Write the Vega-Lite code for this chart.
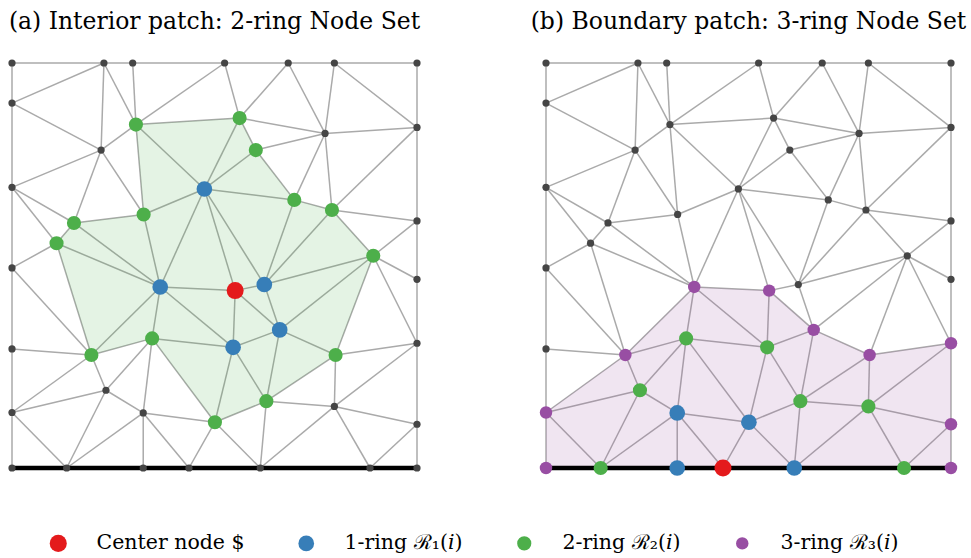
{
  "$schema": "https://vega.github.io/schema/vega-lite/v6.json",
  "padding": {"left": 8, "top": 9, "right": 5, "bottom": 5},
  "background": "white",
  "datasets": {
    "nodes": [
      {"id": "T1", "x": 0, "y": 1, "ra": "o", "rb": "o"},
      {"id": "T2", "x": 0.227, "y": 1, "ra": "o", "rb": "o"},
      {"id": "T3", "x": 0.298, "y": 1, "ra": "o", "rb": "o"},
      {"id": "T4", "x": 0.525, "y": 1, "ra": "o", "rb": "o"},
      {"id": "T5", "x": 0.682, "y": 1, "ra": "o", "rb": "o"},
      {"id": "T6", "x": 0.796, "y": 1, "ra": "o", "rb": "o"},
      {"id": "T7", "x": 1, "y": 1, "ra": "o", "rb": "o"},
      {"id": "L1", "x": 0, "y": 0.901, "ra": "o", "rb": "o"},
      {"id": "L2", "x": 0, "y": 0.693, "ra": "o", "rb": "o"},
      {"id": "L3", "x": 0, "y": 0.494, "ra": "o", "rb": "o"},
      {"id": "L4", "x": 0, "y": 0.294, "ra": "o", "rb": "o"},
      {"id": "L5", "x": 0, "y": 0.137, "ra": "o", "rb": "3"},
      {"id": "R1", "x": 1, "y": 0.841, "ra": "o", "rb": "o"},
      {"id": "R2", "x": 1, "y": 0.61, "ra": "o", "rb": "o"},
      {"id": "R3", "x": 1, "y": 0.466, "ra": "o", "rb": "o"},
      {"id": "R4", "x": 1, "y": 0.308, "ra": "o", "rb": "3"},
      {"id": "R5", "x": 1, "y": 0.108, "ra": "o", "rb": "3"},
      {"id": "B1", "x": 0, "y": 0, "ra": "o", "rb": "3"},
      {"id": "B2", "x": 0.135, "y": 0, "ra": "o", "rb": "2"},
      {"id": "B3", "x": 0.324, "y": 0, "ra": "o", "rb": "1"},
      {"id": "B4", "x": 0.437, "y": 0, "ra": "o", "rb": "c"},
      {"id": "B5", "x": 0.613, "y": 0, "ra": "o", "rb": "1"},
      {"id": "B6", "x": 0.884, "y": 0, "ra": "o", "rb": "2"},
      {"id": "B7", "x": 1, "y": 0, "ra": "o", "rb": "3"},
      {"id": "A", "x": 0.306, "y": 0.848, "ra": "2", "rb": "o"},
      {"id": "Bd", "x": 0.22, "y": 0.785, "ra": "o", "rb": "o"},
      {"id": "C", "x": 0.475, "y": 0.689, "ra": "1", "rb": "o"},
      {"id": "D", "x": 0.325, "y": 0.626, "ra": "2", "rb": "o"},
      {"id": "E", "x": 0.153, "y": 0.605, "ra": "2", "rb": "o"},
      {"id": "F", "x": 0.11, "y": 0.555, "ra": "2", "rb": "o"},
      {"id": "G", "x": 0.562, "y": 0.864, "ra": "2", "rb": "o"},
      {"id": "H", "x": 0.773, "y": 0.826, "ra": "o", "rb": "o"},
      {"id": "I", "x": 0.602, "y": 0.785, "ra": "2", "rb": "o"},
      {"id": "J", "x": 0.697, "y": 0.662, "ra": "2", "rb": "o"},
      {"id": "K", "x": 0.79, "y": 0.637, "ra": "2", "rb": "o"},
      {"id": "Lg", "x": 0.892, "y": 0.524, "ra": "2", "rb": "o"},
      {"id": "M", "x": 0.366, "y": 0.447, "ra": "1", "rb": "3"},
      {"id": "N", "x": 0.346, "y": 0.32, "ra": "2", "rb": "2"},
      {"id": "O", "x": 0.196, "y": 0.279, "ra": "2", "rb": "3"},
      {"id": "P", "x": 0.232, "y": 0.192, "ra": "o", "rb": "2"},
      {"id": "Q", "x": 0.324, "y": 0.136, "ra": "o", "rb": "1"},
      {"id": "R", "x": 0.501, "y": 0.113, "ra": "2", "rb": "1"},
      {"id": "S", "x": 0.551, "y": 0.438, "ra": "c", "rb": "3"},
      {"id": "Tb", "x": 0.623, "y": 0.453, "ra": "1", "rb": "o"},
      {"id": "U", "x": 0.661, "y": 0.341, "ra": "1", "rb": "3"},
      {"id": "V", "x": 0.546, "y": 0.298, "ra": "1", "rb": "2"},
      {"id": "W", "x": 0.799, "y": 0.279, "ra": "2", "rb": "3"},
      {"id": "X", "x": 0.628, "y": 0.165, "ra": "2", "rb": "2"},
      {"id": "Y", "x": 0.796, "y": 0.152, "ra": "o", "rb": "2"}
    ],
    "edges": [
      {"s": "T1", "t": "T2"}, {"s": "T2", "t": "T3"}, {"s": "T3", "t": "T4"}, {"s": "T4", "t": "T5"},
      {"s": "T5", "t": "T6"}, {"s": "T6", "t": "T7"}, {"s": "T7", "t": "R1"}, {"s": "R1", "t": "R2"},
      {"s": "R2", "t": "R3"}, {"s": "R3", "t": "R4"}, {"s": "R4", "t": "R5"}, {"s": "R5", "t": "B7"},
      {"s": "B1", "t": "B2"}, {"s": "B2", "t": "B3"}, {"s": "B3", "t": "B4"}, {"s": "B4", "t": "B5"},
      {"s": "B5", "t": "B6"}, {"s": "B6", "t": "B7"}, {"s": "T1", "t": "L1"}, {"s": "L1", "t": "L2"},
      {"s": "L2", "t": "L3"}, {"s": "L3", "t": "L4"}, {"s": "L4", "t": "L5"}, {"s": "L5", "t": "B1"},
      {"s": "L1", "t": "T2"}, {"s": "L1", "t": "Bd"}, {"s": "T2", "t": "Bd"}, {"s": "T2", "t": "A"},
      {"s": "T3", "t": "A"}, {"s": "A", "t": "Bd"}, {"s": "A", "t": "T4"}, {"s": "A", "t": "G"},
      {"s": "A", "t": "C"}, {"s": "A", "t": "D"}, {"s": "Bd", "t": "L2"}, {"s": "Bd", "t": "E"},
      {"s": "Bd", "t": "D"}, {"s": "L2", "t": "E"}, {"s": "L2", "t": "F"}, {"s": "E", "t": "F"},
      {"s": "E", "t": "D"}, {"s": "E", "t": "M"}, {"s": "F", "t": "M"}, {"s": "F", "t": "L3"},
      {"s": "F", "t": "O"}, {"s": "D", "t": "M"}, {"s": "C", "t": "G"}, {"s": "C", "t": "I"},
      {"s": "C", "t": "J"}, {"s": "C", "t": "D"}, {"s": "C", "t": "M"}, {"s": "C", "t": "S"},
      {"s": "C", "t": "Tb"}, {"s": "G", "t": "I"}, {"s": "G", "t": "T4"}, {"s": "G", "t": "T5"},
      {"s": "G", "t": "H"}, {"s": "T5", "t": "H"}, {"s": "T6", "t": "H"}, {"s": "T6", "t": "R1"},
      {"s": "H", "t": "R1"}, {"s": "I", "t": "H"}, {"s": "I", "t": "J"}, {"s": "H", "t": "J"},
      {"s": "H", "t": "K"}, {"s": "R1", "t": "K"}, {"s": "J", "t": "K"}, {"s": "K", "t": "R2"},
      {"s": "K", "t": "Lg"}, {"s": "R2", "t": "Lg"}, {"s": "J", "t": "Tb"}, {"s": "K", "t": "Tb"},
      {"s": "L3", "t": "O"}, {"s": "L4", "t": "O"}, {"s": "L5", "t": "O"}, {"s": "L5", "t": "P"},
      {"s": "L5", "t": "B2"}, {"s": "O", "t": "P"}, {"s": "O", "t": "N"}, {"s": "O", "t": "M"},
      {"s": "N", "t": "M"}, {"s": "N", "t": "P"}, {"s": "N", "t": "Q"}, {"s": "N", "t": "R"},
      {"s": "N", "t": "V"}, {"s": "P", "t": "B2"}, {"s": "P", "t": "Q"}, {"s": "Q", "t": "B2"},
      {"s": "Q", "t": "B3"}, {"s": "Q", "t": "B4"}, {"s": "Q", "t": "R"}, {"s": "R", "t": "B4"},
      {"s": "R", "t": "V"}, {"s": "R", "t": "X"}, {"s": "R", "t": "B5"}, {"s": "M", "t": "V"},
      {"s": "M", "t": "S"}, {"s": "S", "t": "V"}, {"s": "S", "t": "Tb"}, {"s": "S", "t": "U"},
      {"s": "Tb", "t": "U"}, {"s": "V", "t": "U"}, {"s": "V", "t": "X"}, {"s": "U", "t": "X"},
      {"s": "U", "t": "W"}, {"s": "U", "t": "Lg"}, {"s": "Tb", "t": "Lg"}, {"s": "W", "t": "Lg"},
      {"s": "W", "t": "X"}, {"s": "W", "t": "Y"}, {"s": "W", "t": "R4"}, {"s": "Y", "t": "R4"},
      {"s": "X", "t": "Y"}, {"s": "X", "t": "B5"}, {"s": "Y", "t": "R5"}, {"s": "Y", "t": "B5"},
      {"s": "Y", "t": "B6"}, {"s": "R5", "t": "B6"}, {"s": "Lg", "t": "R3"}, {"s": "Lg", "t": "R4"}
    ],
    "patch_a": [
      {"k": 1, "id": "A"}, {"k": 2, "id": "G"}, {"k": 3, "id": "I"}, {"k": 4, "id": "J"},
      {"k": 5, "id": "K"}, {"k": 6, "id": "Lg"}, {"k": 7, "id": "W"}, {"k": 8, "id": "X"},
      {"k": 9, "id": "R"}, {"k": 10, "id": "N"}, {"k": 11, "id": "O"}, {"k": 12, "id": "F"},
      {"k": 13, "id": "E"}, {"k": 14, "id": "D"}
    ],
    "patch_b": [
      {"k": 1, "id": "B1"}, {"k": 2, "id": "L5"}, {"k": 3, "id": "O"}, {"k": 4, "id": "M"},
      {"k": 5, "id": "S"}, {"k": 6, "id": "U"}, {"k": 7, "id": "W"}, {"k": 8, "id": "R4"},
      {"k": 9, "id": "R5"}, {"k": 10, "id": "B7"}
    ],
    "wall": [
      {"x": 0, "x2": 1, "y": 0}
    ]
  },
  "bounds": "flush",
  "spacing": 129,
  "resolve": {"scale": {"color": "shared", "size": "shared"}, "legend": {"color": "shared"}},
  "hconcat": [
    {
      "width": 405,
      "height": 405,
      "title": {"text": "(a) Interior patch: 2-ring Node Set"},
      "layer": [
        {
          "data": {"name": "edges"},
          "transform": [
            {"lookup": "s", "from": {"data": {"name": "nodes"}, "key": "id", "fields": ["x", "y"]}, "as": ["x1", "y1"]},
            {"lookup": "t", "from": {"data": {"name": "nodes"}, "key": "id", "fields": ["x", "y"]}, "as": ["x2", "y2"]}
          ],
          "mark": {"type": "rule", "color": "#aaaaaa", "strokeWidth": 1.5},
          "encoding": {
            "x": {"field": "x1", "type": "quantitative", "scale": {"domain": [0, 1]}, "axis": null},
            "y": {"field": "y1", "type": "quantitative", "scale": {"domain": [0, 1]}, "axis": null},
            "x2": {"field": "x2"},
            "y2": {"field": "y2"}
          }
        },
        {
          "data": {"name": "patch_a"},
          "transform": [
            {"lookup": "id", "from": {"data": {"name": "nodes"}, "key": "id", "fields": ["x", "y"]}}
          ],
          "mark": {"type": "line", "interpolate": "linear-closed", "fill": "#4daf4a", "fillOpacity": 0.15, "stroke": "#4daf4a", "strokeOpacity": 0},
          "encoding": {
            "x": {"field": "x", "type": "quantitative"},
            "y": {"field": "y", "type": "quantitative"},
            "order": {"field": "k", "type": "quantitative"}
          }
        },
        {
          "data": {"name": "wall"},
          "mark": {"type": "rule", "color": "black", "strokeWidth": 4.5},
          "encoding": {
            "x": {"field": "x", "type": "quantitative"},
            "x2": {"field": "x2"},
            "y": {"field": "y", "type": "quantitative"}
          }
        },
        {
          "data": {"name": "nodes"},
          "transform": [{"filter": "datum.ra == 'o'"}],
          "mark": {"type": "point", "filled": true, "opacity": 1, "color": "#454545", "size": 52},
          "encoding": {
            "x": {"field": "x", "type": "quantitative"},
            "y": {"field": "y", "type": "quantitative"}
          }
        },
        {
          "data": {"name": "nodes"},
          "transform": [{"filter": "datum.ra != 'o'"}],
          "mark": {"type": "point", "filled": true, "opacity": 1, "strokeWidth": 0},
          "encoding": {
            "x": {"field": "x", "type": "quantitative"},
            "y": {"field": "y", "type": "quantitative"},
            "color": {
              "field": "ra", "type": "nominal",
              "scale": {"domain": ["c", "1", "2", "3"], "range": ["#e41a1c", "#377eb8", "#4daf4a", "#984ea3"]},
              "legend": {
                "title": null, "orient": "none", "direction": "horizontal", "columns": 4,
                "legendX": 36, "legendY": 470,
                "labelExpr": "datum.value == 'c' ? 'Center node $' : datum.value == '1' ? '1-ring ℛ₁(𝑖)' : datum.value == '2' ? '2-ring ℛ₂(𝑖)' : '3-ring ℛ₃(𝑖)'"
              }
            },
            "size": {
              "field": "ra", "type": "ordinal",
              "scale": {"domain": ["c", "1", "2", "3"], "range": [290, 155, 155, 155]},
              "legend": null
            }
          }
        }
      ]
    },
    {
      "width": 405,
      "height": 405,
      "title": {"text": "(b) Boundary patch: 3-ring Node Set"},
      "layer": [
        {
          "data": {"name": "edges"},
          "transform": [
            {"lookup": "s", "from": {"data": {"name": "nodes"}, "key": "id", "fields": ["x", "y"]}, "as": ["x1", "y1"]},
            {"lookup": "t", "from": {"data": {"name": "nodes"}, "key": "id", "fields": ["x", "y"]}, "as": ["x2", "y2"]}
          ],
          "mark": {"type": "rule", "color": "#aaaaaa", "strokeWidth": 1.5},
          "encoding": {
            "x": {"field": "x1", "type": "quantitative", "scale": {"domain": [0, 1]}, "axis": null},
            "y": {"field": "y1", "type": "quantitative", "scale": {"domain": [0, 1]}, "axis": null},
            "x2": {"field": "x2"},
            "y2": {"field": "y2"}
          }
        },
        {
          "data": {"name": "patch_b"},
          "transform": [
            {"lookup": "id", "from": {"data": {"name": "nodes"}, "key": "id", "fields": ["x", "y"]}}
          ],
          "mark": {"type": "line", "interpolate": "linear-closed", "fill": "#984ea3", "fillOpacity": 0.15, "stroke": "#984ea3", "strokeOpacity": 0},
          "encoding": {
            "x": {"field": "x", "type": "quantitative"},
            "y": {"field": "y", "type": "quantitative"},
            "order": {"field": "k", "type": "quantitative"}
          }
        },
        {
          "data": {"name": "wall"},
          "mark": {"type": "rule", "color": "black", "strokeWidth": 4.5},
          "encoding": {
            "x": {"field": "x", "type": "quantitative"},
            "x2": {"field": "x2"},
            "y": {"field": "y", "type": "quantitative"}
          }
        },
        {
          "data": {"name": "nodes"},
          "transform": [{"filter": "datum.rb == 'o'"}],
          "mark": {"type": "point", "filled": true, "opacity": 1, "color": "#454545", "size": 52},
          "encoding": {
            "x": {"field": "x", "type": "quantitative"},
            "y": {"field": "y", "type": "quantitative"}
          }
        },
        {
          "data": {"name": "nodes"},
          "transform": [{"filter": "datum.rb != 'o'"}],
          "mark": {"type": "point", "filled": true, "opacity": 1, "strokeWidth": 0},
          "encoding": {
            "x": {"field": "x", "type": "quantitative"},
            "y": {"field": "y", "type": "quantitative"},
            "color": {
              "field": "rb", "type": "nominal",
              "scale": {"domain": ["c", "1", "2", "3"], "range": ["#e41a1c", "#377eb8", "#4daf4a", "#984ea3"]},
              "legend": {
                "title": null, "orient": "none", "direction": "horizontal", "columns": 4,
                "legendX": 36, "legendY": 470,
                "labelExpr": "datum.value == 'c' ? 'Center node $' : datum.value == '1' ? '1-ring ℛ₁(𝑖)' : datum.value == '2' ? '2-ring ℛ₂(𝑖)' : '3-ring ℛ₃(𝑖)'"
              }
            },
            "size": {
              "field": "rb", "type": "ordinal",
              "scale": {"domain": ["c", "1", "2", "3"], "range": [290, 155, 155, 155]},
              "legend": null
            }
          }
        }
      ]
    }
  ],
  "config": {
    "view": {"stroke": null},
    "title": {
      "font": "DejaVu Serif", "fontSize": 23.5, "fontWeight": "normal", "color": "black",
      "anchor": "middle", "frame": "group", "baseline": "alphabetic", "offset": 26
    },
    "legend": {
      "labelFont": "DejaVu Serif", "labelFontSize": 20.5, "labelColor": "black", "labelLimit": 0,
      "symbolType": "circle", "symbolSize": 120, "symbolStrokeWidth": 0, "symbolOpacity": 1,
      "labelOffset": 28, "columnPadding": 51, "padding": 0
    }
  }
}
